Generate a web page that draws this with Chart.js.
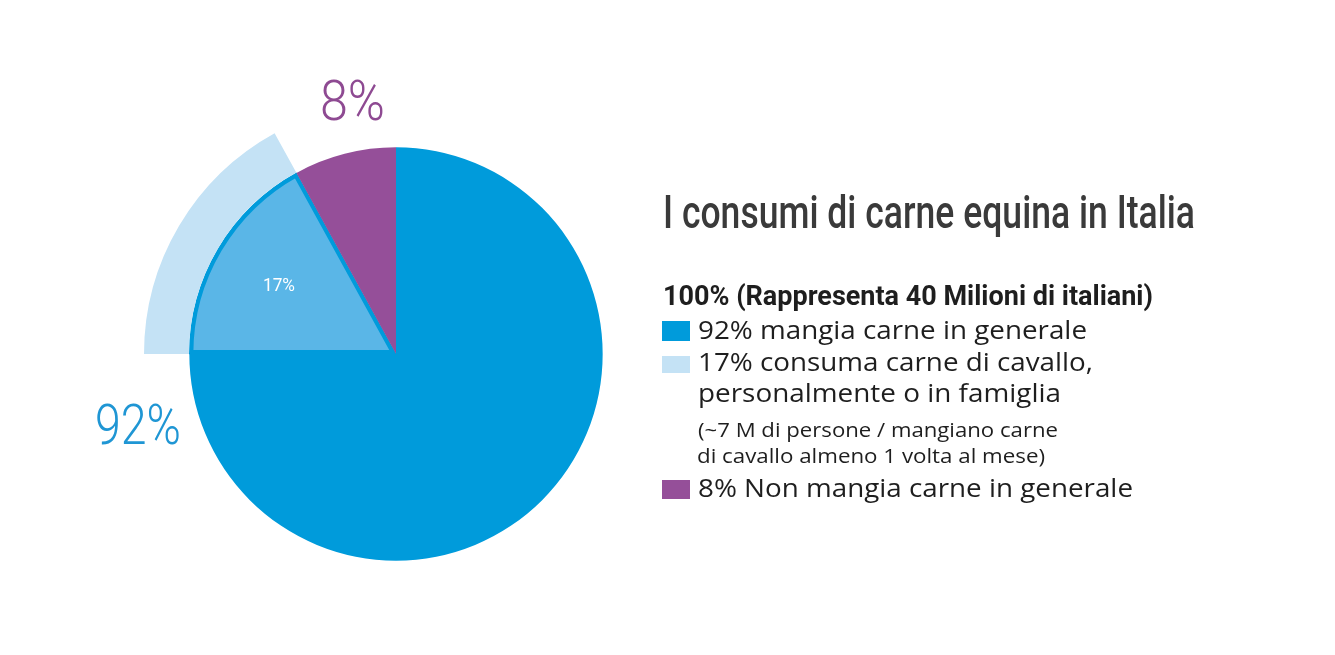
<!DOCTYPE html>
<html><head><meta charset="utf-8">
<script src="https://cdn.jsdelivr.net/npm/chart.js@4"></script>
<style>
body{margin:0;background:#fff;width:1335px;height:655px;overflow:hidden;position:relative}
#wrap{position:absolute;left:144px;top:102px;width:504px;height:504px}
svg{position:absolute;left:0;top:0;pointer-events:none}
</style></head><body>
<div id="wrap"><canvas id="pie" width="504" height="504"></canvas></div>
<svg id="txt" width="1335" height="655"></svg>
<script>
// dati
const categorie=["Mangia carne in generale","Consuma carne di cavallo","Non mangia carne in generale"];
const percentuali=[92,17,8];
const colori=["#009bdb","#5ab6e7","#954f99"];
const coloreFascia="#c4e2f5";
const titolo="I consumi di carne equina in Italia";
const sottotitolo="100% (Rappresenta 40 Milioni di italiani)";
const legenda=[
 percentuali[0]+"% mangia carne in generale",
 percentuali[1]+"% consuma carne di cavallo,",
 "personalmente o in famiglia",
 "(~7 M di persone / mangiano carne",
 "di cavallo almeno 1 volta al mese)",
 percentuali[2]+"% Non mangia carne in generale"
];

// la fetta 17% sta dentro il 92%
const fette=[percentuali[0]-percentuali[1],percentuali[1],percentuali[2]];

new Chart(document.getElementById("pie"),{
 type:"pie",
 data:{labels:categorie,datasets:[
  {data:fette,backgroundColor:["rgba(0,0,0,0)",coloreFascia,"rgba(0,0,0,0)"],borderWidth:0,weight:45},
  {data:fette,backgroundColor:colori,borderColor:colori[0],borderWidth:[0,4,0],borderAlign:"inner",weight:207}
 ]},
 options:{responsive:false,animation:false,plugins:{legend:{display:false},tooltip:{enabled:false}}}
});

const svg=document.getElementById("txt");
const NS="http://www.w3.org/2000/svg";
function testo(s,x,y,size,w,fill,fam,weight){
 let el=document.createElementNS(NS,"text");
 el.setAttribute("x",x);el.setAttribute("y",y);
 el.setAttribute("font-size",size);el.setAttribute("fill",fill);
 el.setAttribute("font-family",fam);el.setAttribute("font-weight",weight||400);
 el.setAttribute("textLength",w);el.setAttribute("lengthAdjust","spacingAndGlyphs");
 el.textContent=s;svg.appendChild(el);
}
function quadrato(x,y,w,h,fill){
 let r=document.createElementNS(NS,"rect");
 r.setAttribute("x",x);r.setAttribute("y",y);r.setAttribute("width",w);r.setAttribute("height",h);
 r.setAttribute("fill",fill);svg.appendChild(r);
}

// etichette della torta
testo(percentuali[2]+"%",320,120,55,65,"#8e4a92","Roboto",300);
testo(percentuali[0]+"%",95,444,55,86,"#1f96d4","Roboto",300);
testo(percentuali[1]+"%",263,291,19,32,"#ffffff","Roboto",400);

// titolo e legenda
testo(titolo,663,228,46,532,"#3a3a3a","Roboto",500);
testo(sottotitolo,663,305,27,490,"#1e1e1e","Roboto",700);
quadrato(662,321,28,20,colori[0]);
quadrato(662,356,28,17,coloreFascia);
quadrato(662,480,28,19,colori[2]);
testo(legenda[0],698,339,26,389,"#1e1e1e","Open Sans");
testo(legenda[1],698,371,26,395,"#1e1e1e","Open Sans");
testo(legenda[2],698,402,26,363,"#1e1e1e","Open Sans");
testo(legenda[3],698,437,19.5,360,"#1e1e1e","Open Sans");
testo(legenda[4],697,463,19.5,348,"#1e1e1e","Open Sans");
testo(legenda[5],698,497,26,435,"#1e1e1e","Open Sans");
</script>
</body></html>
